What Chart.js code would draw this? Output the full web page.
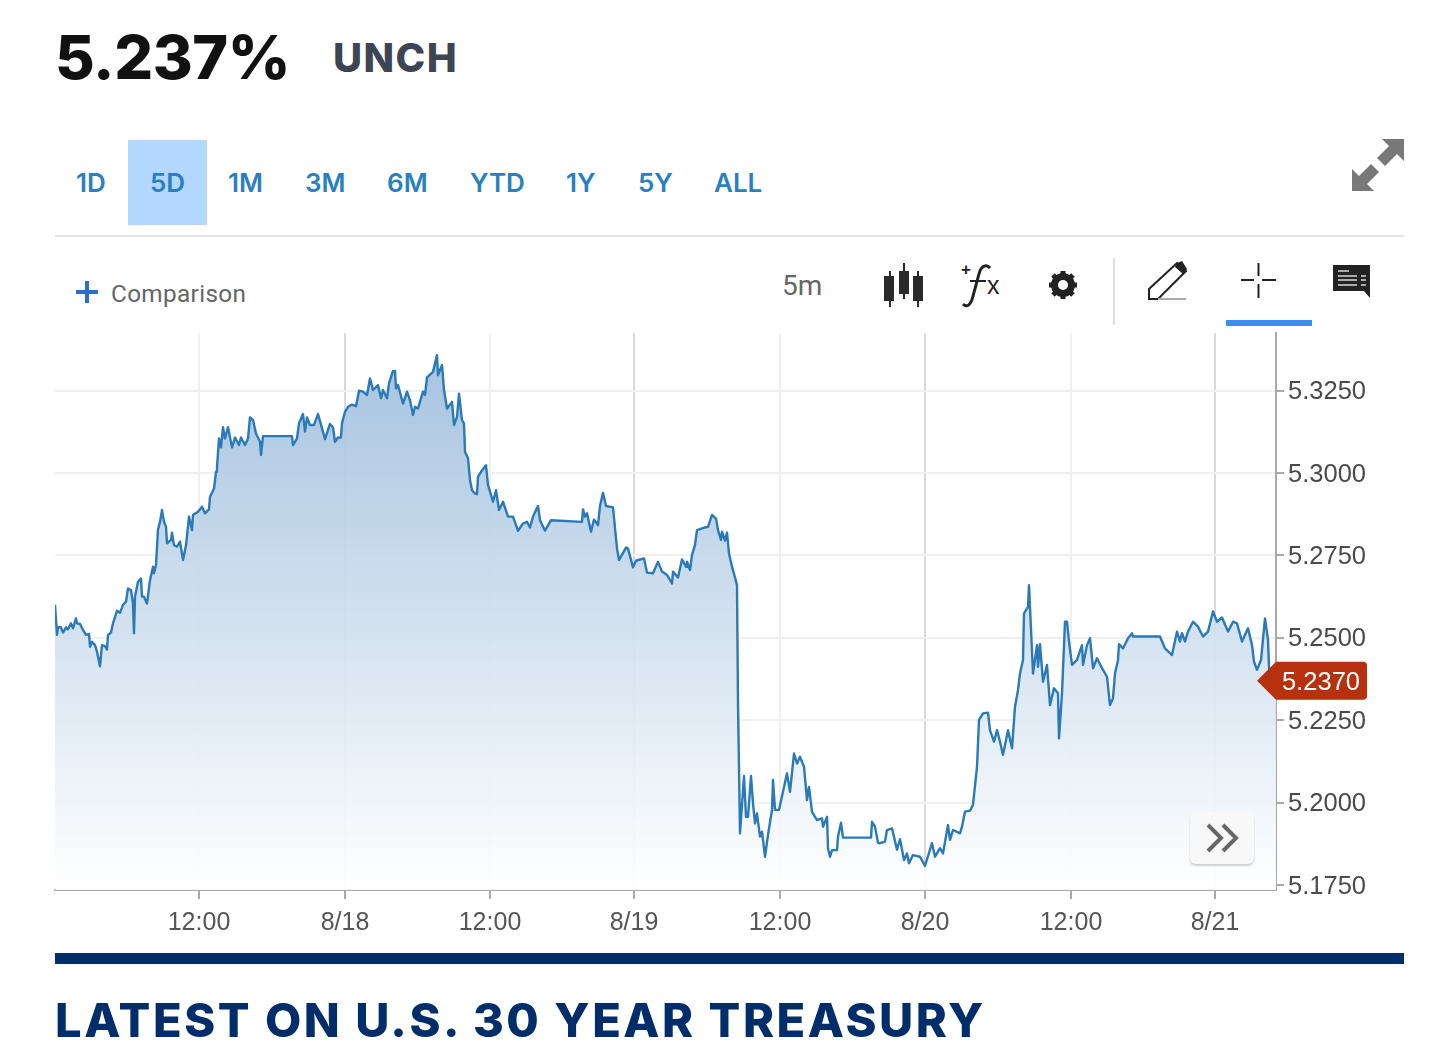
<!DOCTYPE html>
<html><head><meta charset="utf-8">
<script src="https://cdn.jsdelivr.net/npm/chart.js@4"></script>
<style>
html,body{margin:0;padding:0;background:#fff;width:1439px;height:1057px;overflow:hidden}
.t{position:absolute;white-space:nowrap;line-height:1;font-family:Inter,"Open Sans",sans-serif}
.r{position:absolute}
.rg{font-family:Inter,sans-serif;font-weight:600;color:#2a7fc0;font-size:26px;top:170px}
svg{position:absolute;overflow:visible}
canvas{position:absolute;left:0;top:0}
</style></head><body>
<div class="t" style="left:55px;top:27px;font-size:61px;font-weight:800;color:#111;letter-spacing:-.4px">5.237%</div>
<div class="t" style="left:333px;top:38px;font-size:40px;font-weight:800;color:#3d4454;letter-spacing:1.4px">UNCH</div>
<div class="r" style="left:128px;top:140px;width:79px;height:85px;background:#b3d7ff"></div>
<div class="t rg" style="left:76px">1D</div><div class="t rg" style="left:150px">5D</div><div class="t rg" style="left:228px">1M</div><div class="t rg" style="left:305px">3M</div><div class="t rg" style="left:387px">6M</div><div class="t rg" style="left:470px">YTD</div><div class="t rg" style="left:566px">1Y</div><div class="t rg" style="left:638px">5Y</div><div class="t rg" style="left:714px">ALL</div>
<svg style="left:1352px;top:139px" width="52" height="52" viewBox="0 0 52 52" fill="#787878"><path d="M30 0H52V22L45 15L33 27L25 19L37 7Z"/><path d="M0 52V30L7 37L19 25L27 33L15 45L22 52Z"/></svg>
<div class="r" style="left:55px;top:235px;width:1349px;height:2px;background:#e3e3e3"></div>
<svg style="left:76px;top:281px" width="22" height="22"><path d="M0 11H22M11 0V22" stroke="#2a6fd0" stroke-width="4"/></svg>
<div class="t" style="left:111px;top:282px;font-family:Roboto,sans-serif;font-size:24.3px;color:#666;letter-spacing:.35px">Comparison</div>
<div class="t" style="left:782px;top:272px;font-family:Roboto,sans-serif;font-size:28px;color:#666">5m</div>
<svg style="left:883px;top:263px" width="42" height="44" fill="#2a2a2a" stroke="#2a2a2a" stroke-width="2"><path d="M7 8V44M21 0V36M35 8V44" fill="none"/><rect x="1" y="13" width="10" height="25" stroke="none"/><rect x="16" y="8" width="10" height="23" stroke="none"/><rect x="30" y="13" width="10" height="25" stroke="none"/></svg>
<div class="t" style="left:961px;top:261px;font-family:'Liberation Sans',sans-serif;font-size:17px;font-weight:700;color:#222">+</div>
<svg style="left:962px;top:264px" width="30" height="44" fill="none" stroke="#222"><path d="M1 40C5 44 9 41 11 32L17 10C19 1 25 0 28 4" stroke-width="3"/><path d="M8 17H24" stroke-width="2"/></svg>
<div class="t" style="left:987px;top:273px;font-family:'Liberation Sans',sans-serif;font-size:25px;color:#222">x</div>
<svg style="left:1048px;top:270px" width="30" height="30" viewBox="0 0 30 30"><circle cx="15" cy="15" r="8.5" fill="none" stroke="#222" stroke-width="7"/><path d="M15 1V29M1 15H29M5 5L25 25M25 5L5 25" stroke="#222" stroke-width="5"/><circle cx="15" cy="15" r="5" fill="#fff"/></svg>
<div class="r" style="left:1113px;top:258px;width:2px;height:67px;background:#ddd"></div>
<svg style="left:1148px;top:261px" width="40" height="40" fill="none"><path d="M1 38V28L29 2L38 10L10 38Z" stroke="#222" stroke-width="2"/><path d="M29 2L34 0L39 8L35 13L27 6Z" fill="#222"/><path d="M10 38H38" stroke="#aaa" stroke-width="2"/></svg>
<svg style="left:1241px;top:263px" width="35" height="35"><path d="M17.5 0V13M17.5 21V35M0 17H13M21 17H35" stroke="#222" stroke-width="2"/></svg>
<div class="r" style="left:1226px;top:320px;width:86px;height:6px;background:#3a8df5"></div>
<svg style="left:1333px;top:265px" width="37" height="33"><path d="M0 0H37V33L31 26H0Z" fill="#222"/><path d="M5 6H16M5 11H24M5 15H24M5 20H24M28 11H33M28 15H33M28 20H33" stroke="#aaa" stroke-width="2"/></svg>
<canvas id="c" width="1439" height="1057" style="width:1439px;height:1057px"></canvas>
<div class="r" style="left:1190px;top:812px;width:64px;height:52px;background:#f8f8f8;border-radius:6px;box-shadow:0 2px 2px rgba(0,0,0,.18)"></div>
<svg style="left:1206px;top:823px" width="36" height="30" fill="none" stroke="#666" stroke-width="4"><path d="M2 2L15 15L2 28M17 2L30 15L17 28"/></svg>
<div class="r" style="left:55px;top:953px;width:1349px;height:11px;background:#012d6b"></div>
<div class="t" style="left:55px;top:996px;font-size:47px;font-weight:800;color:#012d6b;letter-spacing:2.55px">LATEST ON U.S. 30 YEAR TREASURY</div>
<script>
const sampleIndex=[0,2,3,6,8,11,13,16,18,21,22,25,28,31,34,35,37,40,42,45,47,50,52,53,56,58,62,65,68,71,73,76,78,79,80,83,86,87,89,92,95,98,99,101,103,105,107,109,111,112,116,117,119,122,125,128,131,134,137,138,143,147,150,154,155,159,161,162,164,166,168,170,173,177,180,184,186,190,193,195,198,201,205,206,208,237,238,242,244,248,250,252,255,259,263,267,270,275,278,280,283,286,287,290,293,297,301,304,308,312,315,318,323,326,328,332,334,338,340,341,343,348,352,355,358,360,363,368,370,372,378,382,383,387,389,392,397,399,402,404,407,409,410,413,415,417,420,422,423,426,431,433,438,441,444,448,453,458,463,468,472,475,478,483,485,490,496,527,528,530,532,536,539,543,545,548,551,558,562,564,571,573,578,581,589,592,598,603,607,612,617,618,623,627,631,632,635,637,640,642,650,653,657,661,663,666,667,670,672,674,677,680,682,683,685,689,691,693,696,698,700,702,705,707,710,713,717,718,720,724,728,732,735,739,742,745,749,752,754,757,762,767,768,772,773,775,777,782,783,786,788,816,817,820,823,825,830,832,837,842,845,849,852,854,858,865,870,877,880,885,888,893,895,898,905,907,910,915,918,922,924,928,933,935,939,942,945,948,953,957,960,963,965,968,969,973,974,978,982,983,985,988,992,995,999,1003,1004,1007,1010,1012,1014,1017,1022,1027,1028,1032,1035,1038,1042,1047,1052,1055,1058,1060,1063,1064,1068,1073,1077,1078,1105,1110,1117,1122,1125,1127,1130,1133,1138,1143,1148,1153,1158,1162,1167,1173,1178,1182,1187,1193,1197,1199,1202,1206,1210,1213,1214,1215];
const yieldValues=[5.2600,5.2509,5.2532,5.2532,5.2516,5.2532,5.2526,5.2544,5.2529,5.2559,5.2544,5.2542,5.2524,5.2509,5.2512,5.2473,5.2488,5.2478,5.2458,5.2414,5.2478,5.2475,5.2465,5.2509,5.2516,5.2544,5.2582,5.2576,5.2600,5.2610,5.2650,5.2645,5.2604,5.2514,5.2625,5.2670,5.2680,5.2625,5.2625,5.2604,5.2675,5.2716,5.2696,5.2721,5.2829,5.2852,5.2888,5.2852,5.2837,5.2787,5.2797,5.2819,5.2781,5.2777,5.2792,5.2736,5.2781,5.2868,5.2827,5.2873,5.2883,5.2898,5.2878,5.2890,5.2928,5.2953,5.3004,5.3019,5.3105,5.3078,5.3139,5.3105,5.3139,5.3078,5.3108,5.3085,5.3108,5.3085,5.3105,5.3169,5.3161,5.3120,5.3095,5.3055,5.3112,5.3112,5.3085,5.3105,5.3151,5.3179,5.3126,5.3169,5.3146,5.3146,5.3179,5.3136,5.3103,5.3149,5.3139,5.3095,5.3108,5.3108,5.3151,5.3186,5.3201,5.3208,5.3203,5.3250,5.3247,5.3237,5.3287,5.3252,5.3267,5.3227,5.3252,5.3227,5.3272,5.3310,5.3310,5.3257,5.3267,5.3211,5.3247,5.3221,5.3176,5.3201,5.3196,5.3247,5.3237,5.3290,5.3307,5.3358,5.3297,5.3328,5.3252,5.3196,5.3216,5.3146,5.3170,5.3241,5.3161,5.3151,5.3065,5.3045,5.2979,5.2948,5.2938,5.2936,5.2989,5.3004,5.3024,5.2964,5.2913,5.2948,5.2888,5.2913,5.2868,5.2868,5.2825,5.2847,5.2852,5.2835,5.2868,5.2900,5.2857,5.2825,5.2857,5.2852,5.2890,5.2868,5.2878,5.2822,5.2859,5.2842,5.2900,5.2940,5.2900,5.2896,5.2771,5.2736,5.2774,5.2771,5.2714,5.2734,5.2741,5.2698,5.2696,5.2731,5.2701,5.2691,5.2665,5.2701,5.2683,5.2738,5.2716,5.2731,5.2706,5.2751,5.2782,5.2827,5.2835,5.2837,5.2873,5.2862,5.2827,5.2797,5.2822,5.2795,5.2819,5.2756,5.2716,5.2683,5.2660,5.2301,5.1907,5.2081,5.1957,5.1957,5.2081,5.1998,5.1937,5.1967,5.1897,5.1912,5.1836,5.1902,5.1978,5.2069,5.1978,5.1978,5.2033,5.2089,5.2033,5.2149,5.2119,5.2139,5.2109,5.2008,5.2048,5.1972,5.1947,5.1952,5.1927,5.1957,5.1861,5.1836,5.1856,5.1856,5.1897,5.1939,5.1894,5.1894,5.1942,5.1927,5.1878,5.1877,5.1882,5.1917,5.1922,5.1857,5.1889,5.1826,5.1846,5.1816,5.1841,5.1836,5.1808,5.1877,5.1836,5.1862,5.1846,5.1932,5.1887,5.1917,5.1907,5.1927,5.1973,5.1976,5.1993,5.2109,5.2251,5.2271,5.2273,5.2220,5.2185,5.2220,5.2185,5.2145,5.2220,5.2165,5.2291,5.2342,5.2392,5.2433,5.2574,5.2594,5.2660,5.2392,5.2478,5.2412,5.2481,5.2367,5.2418,5.2296,5.2347,5.2332,5.2195,5.2332,5.2549,5.2549,5.2489,5.2418,5.2433,5.2478,5.2418,5.2478,5.2499,5.2408,5.2438,5.2408,5.2382,5.2296,5.2317,5.2392,5.2433,5.2481,5.2468,5.2499,5.2514,5.2504,5.2504,5.2468,5.2448,5.2519,5.2489,5.2514,5.2489,5.2519,5.2549,5.2534,5.2504,5.2519,5.2580,5.2549,5.2562,5.2519,5.2549,5.2544,5.2489,5.2529,5.2478,5.2428,5.2403,5.2433,5.2559,5.2494,5.2412,5.2370];
const xTickPositions=[144,290,435,579,725,870,1016,1160];
const xTickLabels=["12:00","8/18","12:00","8/19","12:00","8/20","12:00","8/21"];
const dayTicks=["8/18","8/19","8/20","8/21"];
const yTicks=[5.175,5.2,5.225,5.25,5.275,5.3,5.325];
const lastValue=5.237;
const xMax=1221, yMin=5.1735, yMax=5.3425;

const pts=sampleIndex.map((x,i)=>({x,y:yieldValues[i]}));
const tail=[{x:sampleIndex[sampleIndex.length-1],y:lastValue},{x:xMax,y:lastValue}];
function grad(ctx){
  const a=ctx.chart.chartArea; if(!a) return 'rgba(160,192,222,.9)';
  const g=ctx.chart.ctx.createLinearGradient(0,a.top+22,0,a.bottom);
  g.addColorStop(0,'rgba(160,191,221,.93)');
  g.addColorStop(1,'rgba(255,255,255,.93)');
  return g;
}
const tagPlugin={id:'tag',afterDraw(c){
  const y=c.scales.y.getPixelForValue(lastValue),x=c.ctx;
  x.save();x.fillStyle='#b8310e';x.beginPath();
  const l=1257,b=1276,r=1367,h=19;
  x.moveTo(l,y);x.lineTo(b,y-h);x.lineTo(r-4,y-h);x.quadraticCurveTo(r,y-h,r,y-h+4);x.lineTo(r,y+h-4);x.quadraticCurveTo(r,y+h,r-4,y+h);x.lineTo(b,y+h);x.closePath();x.fill();
  x.fillStyle='#fff';x.font='25.5px "Liberation Sans"';x.textBaseline='middle';x.textAlign='right';
  x.fillText(lastValue.toFixed(4),1360,y+2);x.restore();
}};
new Chart(document.getElementById('c'),{type:'line',
 data:{datasets:[
  {data:pts,borderColor:'#2a7ab8',borderWidth:2.4,pointRadius:0,tension:0,fill:'start',backgroundColor:grad,borderJoinStyle:'round'},
  {data:tail,borderWidth:0,borderColor:'transparent',pointRadius:0,tension:0,fill:'start',backgroundColor:grad}
 ]},
 options:{responsive:false,animation:false,devicePixelRatio:1,
  layout:{padding:{left:55,top:333,right:63,bottom:117}},
  plugins:{legend:{display:false},tooltip:{enabled:false},title:{display:false}},
  scales:{
   x:{type:'linear',min:0,max:xMax,offset:false,
    afterBuildTicks(s){s.ticks=xTickPositions.map(v=>({value:v}));},
    afterFit(s){s.height=50;},
    ticks:{autoSkip:false,maxRotation:0,padding:9,color:'#555',font:{family:'Liberation Sans',size:25},
      callback(v){return xTickLabels[xTickPositions.indexOf(v)];}},
    grid:{drawTicks:true,tickLength:9,lineWidth:2,tickColor:'#aaa',
      color(c){const i=xTickPositions.indexOf(c.tick&&c.tick.value);return dayTicks.includes(xTickLabels[i])?'#d9d9d9':'#f0f0f0';}},
    border:{color:'#a8a8a8',width:2}},
   y:{position:'right',min:yMin,max:yMax,
    afterBuildTicks(s){s.ticks=yTicks.map(v=>({value:v}));},
    afterFit(s){s.width=100;},
    ticks:{autoSkip:false,padding:4,labelOffset:1.5,color:'#4a4a4a',font:{family:'Liberation Sans',size:25.5},
      callback(v){return v.toFixed(4);}},
    grid:{lineWidth:2,color:'#f0f0f0',tickColor:'#aaa',tickLength:8},
    border:{color:'#a8a8a8',width:2}}
  }},
 plugins:[tagPlugin]});
</script>
</body></html>
